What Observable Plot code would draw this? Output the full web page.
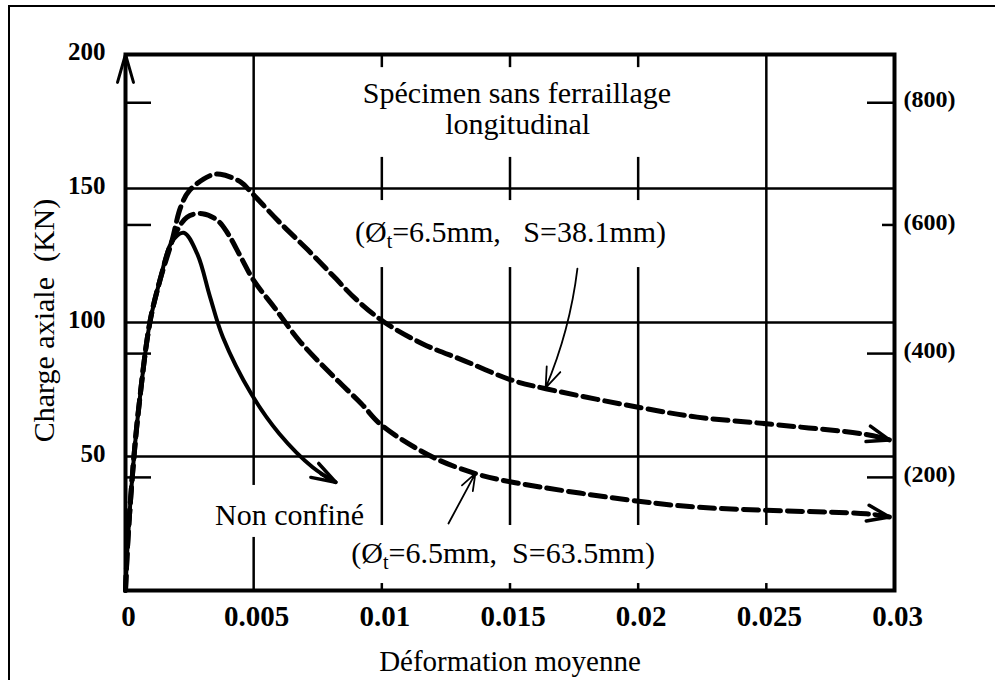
<!DOCTYPE html>
<html>
<head>
<meta charset="utf-8">
<script src="https://cdn.jsdelivr.net/npm/d3@7"></script>
<script src="https://cdn.jsdelivr.net/npm/@observablehq/plot@0.6"></script>
<style>
html, body { margin: 0; padding: 0; background: #fff; }
#wrap { position: relative; width: 995px; height: 680px; overflow: hidden; background: #fff; }
#chart { position: absolute; left: 0; top: 0; }
#border { position: absolute; left: 8px; top: 5px; width: 1000px; height: 700px; border-left: 2px solid #000; border-top: 2px solid #000; box-sizing: border-box; z-index: 2; pointer-events: none; }
</style>
</head>
<body>
<div id="wrap"><div id="chart"></div><div id="border"></div></div>
<script>
// ---------- data ----------
const xTicks = [0, 0.005, 0.01, 0.015, 0.02, 0.025, 0.03];
const xTickLabels = ["0", "0.005", "0.01", "0.015", "0.02", "0.025", "0.03"];
const yTicks = [50, 100, 150, 200];
const yGrid = [50, 100, 150];
const rightTickLabels = ["(200)", "(400)", "(600)", "(800)"];
const rightTickAt = [42.2, 88.4, 136.4, 182];

const unconfinedStrain = [0, 0.0001, 0.00033, 0.00055, 0.00095, 0.00135, 0.0018, 0.00227, 0.0028, 0.0033, 0.0038, 0.0049, 0.006, 0.0073, 0.0082];
const unconfinedLoad   = [0, 20, 50, 71, 100, 116, 130, 133.5, 125.6, 109.5, 94.5, 73.5, 58.5, 46, 40.4];

const s381Strain = [0, 0.0001, 0.00033, 0.00055, 0.00095, 0.00135, 0.0018, 0.00215, 0.0025, 0.0033, 0.0037, 0.0045, 0.0049, 0.006, 0.0071, 0.0081, 0.009, 0.0101, 0.0116, 0.0132, 0.0151, 0.0164, 0.0201, 0.0223, 0.025, 0.0289, 0.0298];
const s381Load   = [0, 20, 50, 71, 100, 116, 130, 143, 149.3, 154.8, 155.3, 152.4, 148.6, 137.5, 127.2, 117.4, 108.6, 100.1, 92, 85.8, 78.4, 75.3, 68.2, 64.7, 62.2, 58.2, 56.2];

const s635Strain = [0, 0.0001, 0.00033, 0.00055, 0.00095, 0.00135, 0.0018, 0.0024, 0.003, 0.0036, 0.004, 0.0045, 0.005, 0.0058, 0.0068, 0.0081, 0.0092, 0.01, 0.012, 0.0137, 0.0151, 0.0201, 0.0223, 0.025, 0.0289, 0.0298];
const s635Load   = [0, 20, 50, 71, 100, 116, 130, 139.3, 140.6, 138, 133.1, 124.4, 115.7, 105.7, 93, 80, 69.7, 61.6, 49.7, 43.5, 40.4, 33.2, 31.1, 29.9, 28.6, 27.4];

// ---------- annotation layout ----------
const labelText = [
  "Spécimen sans ferraillage",
  "longitudinal",
  "(Øt=6.5mm,\u00a0\u00a0\u00a0S=38.1mm)",
  "Non confiné",
  "(Øt=6.5mm,\u00a0\u00a0S=63.5mm)"
];
const labelX = [0.01527, 0.0153, 0.01502, 0.0064, 0.01473];
const labelY = [181.8, 170.2, 130.2, 24.6, 10.1];

const boxes = [
  {x1: 0.00897, x2: 0.02165, y1: 161.6, y2: 195.1},
  {x1: 0.00858, x2: 0.02165, y1: 120.5, y2: 145.5},
  {x1: 0.00312, x2: 0.00964, y1: 19.8, y2: 39.2},
  {x1: 0.00858, x2: 0.02575, y1: 2.6, y2: 24.25}
];
const pointer1 = [{x1: 0.01763, y1: 120.1, x2: 0.01639, y2: 75.6}];
const pointer2 = [{x1: 0.0126, y1: 25, x2: 0.01365, y2: 43.7}];

// ---------- build ----------
const toRows = (xs, ys) => xs.map((x, i) => ({strain: x, load: ys[i]}));
const unconfined = toRows(unconfinedStrain, unconfinedLoad);
const s381 = toRows(s381Strain, s381Load);
const s635 = toRows(s635Strain, s635Load);

const ns = "http://www.w3.org/2000/svg";
function openHead(len, half, sw) {
  return (color) => {
    const m = document.createElementNS(ns, "marker");
    const pad = sw * 2;
    m.setAttribute("viewBox", `${-len - pad} ${-half - pad} ${len + 2 * pad} ${2 * half + 2 * pad}`);
    m.setAttribute("markerUnits", "userSpaceOnUse");
    m.setAttribute("markerWidth", len + 2 * pad);
    m.setAttribute("markerHeight", 2 * half + 2 * pad);
    m.setAttribute("refX", 0);
    m.setAttribute("refY", 0);
    m.setAttribute("orient", "auto");
    m.setAttribute("overflow", "visible");
    const p = document.createElementNS(ns, "path");
    p.setAttribute("d", `M${-len},${-half}L0,0L${-len},${half}M${-len * 0.7},0L0,0`);
    p.setAttribute("fill", "none");
    p.setAttribute("stroke", color);
    p.setAttribute("stroke-width", sw);
    p.setAttribute("stroke-dasharray", "none");
    p.setAttribute("stroke-linecap", "round");
    p.setAttribute("stroke-linejoin", "round");
    m.appendChild(p);
    return m;
  };
}

const W = 995, H = 680, mL = 125, mR = 101, mT = 54, mB = 90;
const plotW = W - mL - mR;
const serif = "'Liberation Serif', 'Times New Roman', serif";
const rightRows = rightTickAt.map((v, i) => ({v, label: rightTickLabels[i]}));

const chart = Plot.plot({
  width: W, height: H,
  marginLeft: mL, marginRight: mR, marginTop: mT, marginBottom: mB,
  x: {domain: [xTicks[0], xTicks[xTicks.length - 1]], axis: null},
  y: {domain: [0, yTicks[yTicks.length - 1]], axis: null},
  style: {background: "transparent", color: "black", fontFamily: serif},
  marks: [
    Plot.ruleX(xTicks.slice(1, -1), {stroke: "black", strokeWidth: 2.5}),
    Plot.ruleY(yGrid, {stroke: "black", strokeWidth: 2.5}),
    Plot.rect(boxes, {x1: "x1", x2: "x2", y1: "y1", y2: "y2", fill: "white"}),
    Plot.tickY(rightTickAt, {y: d => d, stroke: "black", strokeWidth: 2.5, insetRight: plotW - 26}),
    Plot.tickY(rightRows.filter(d => d.label !== "(600)"), {y: "v", stroke: "black", strokeWidth: 2.5, insetLeft: plotW - 27}),
    Plot.tickY(rightRows.filter(d => d.label === "(600)"), {y: "v", stroke: "black", strokeWidth: 2.5, insetLeft: plotW - 12}),
    Plot.line(unconfined, {x: "strain", y: "load", stroke: "black", strokeWidth: 4, curve: "catmull-rom", markerEnd: openHead(24, 8, 3.5)}),
    Plot.line(s635, {x: "strain", y: "load", stroke: "black", strokeWidth: 5, strokeDasharray: "15,7", curve: "catmull-rom", markerEnd: openHead(22, 8, 3.5)}),
    Plot.line(s381, {x: "strain", y: "load", stroke: "black", strokeWidth: 5, strokeDasharray: "15,7", curve: "catmull-rom", markerEnd: openHead(22, 8, 3.5)}),
    Plot.arrow(pointer1, {x1: "x1", y1: "y1", x2: "x2", y2: "y2", stroke: "black", strokeWidth: 1.8, bend: 8, headLength: 18, headAngle: 40}),
    Plot.arrow(pointer2, {x1: "x1", y1: "y1", x2: "x2", y2: "y2", stroke: "black", strokeWidth: 1.8, headLength: 15, headAngle: 40}),
    Plot.frame({stroke: "black", strokeWidth: 4}),
    Plot.arrow([{x: xTicks[0], y1: yTicks[2], y2: yTicks[3]}], {x: "x", y1: "y1", y2: "y2", stroke: "black", strokeWidth: 3, headLength: 14.5, headAngle: 32}),
    // tick labels
    Plot.text(xTicks.map((v, i) => ({v, label: xTickLabels[i]})), {x: "v", text: "label", frameAnchor: "bottom", dy: 35, dx: 3, lineAnchor: "bottom", fontSize: 29, fontWeight: "bold", fontFamily: serif, fill: "black"}),
    Plot.text(yTicks, {y: d => d, text: d => String(d), frameAnchor: "left", dx: -20, dy: -3, textAnchor: "end", lineAnchor: "middle", fontSize: 25, fontWeight: "bold", fontFamily: serif, fill: "black"}),
    Plot.text(rightRows, {y: "v", text: "label", frameAnchor: "right", dx: 9, dy: -3, textAnchor: "start", lineAnchor: "middle", fontSize: 24, fontWeight: "bold", fontFamily: serif, fill: "black"}),
    // axis titles
    Plot.text(["Déformation moyenne"], {frameAnchor: "bottom", dy: 80, lineAnchor: "bottom", fontSize: 29, fontFamily: serif, fill: "black"}),
    Plot.text(["Charge axiale\u00a0\u00a0(KN)"], {frameAnchor: "left", dx: -81, dy: -2, rotate: -90, textAnchor: "middle", lineAnchor: "middle", fontSize: 30, fontFamily: serif, fill: "black"}),
    // annotations
    Plot.text(labelText.map((t, i) => ({t, x: labelX[i], y: labelY[i]})), {x: "x", y: "y", text: "t", lineAnchor: "bottom", fontSize: 30, fontFamily: serif, fill: "black"})
  ]
});

// subscript t in Øt
chart.querySelectorAll("text").forEach(t => {
  const s = t.textContent;
  if (s.startsWith("(Øt")) {
    t.textContent = "";
    const a = document.createElementNS(ns, "tspan"); a.textContent = "(Ø";
    const b = document.createElementNS(ns, "tspan"); b.textContent = "t";
    b.setAttribute("font-size", "20px"); b.setAttribute("dy", "6");
    const c = document.createElementNS(ns, "tspan"); c.textContent = s.slice(3);
    c.setAttribute("dy", "-6");
    t.appendChild(a); t.appendChild(b); t.appendChild(c);
  }
});

document.getElementById("chart").appendChild(chart);
</script>
</body>
</html>
